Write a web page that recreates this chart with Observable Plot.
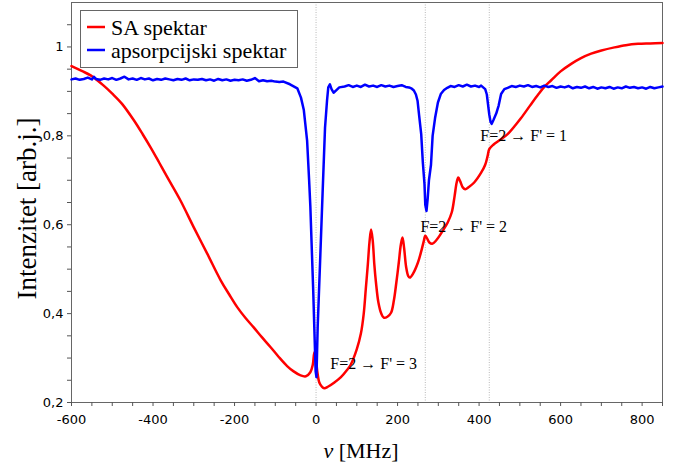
<!DOCTYPE html>
<html><head><meta charset="utf-8">
<script src="https://cdn.jsdelivr.net/npm/d3@7"></script>
<script src="https://cdn.jsdelivr.net/npm/@observablehq/plot@0.6"></script>
<style>
body{margin:0;background:#fff;}
</style>
</head><body>
<div id="wrap"></div>
<script>
// SA spectrum (red)
const saFreq = [-600,-575,-553,-521,-500,-476,-447,-425,-406,-385,-365,-333,-300,-267,-234,-213,-193,-173,-153,-133,-112,-92,-71,-55,-38,-25,-14,-8,-4,-1,3,8,14,20,30,45,61,75,85,100,110,117,122,127,131,135,139,143,147,153,160,166,175,184,191,197,203,208,212,216,221,226,230,238,250,258,264,268,272,278,285,295,310,323,333,340,345,349,354,360,366,375,388,405,415,421,425,435,450,470,490,503,525,545,560,577,600,626,650,675,700,732,760,790,820,850];
const saInt = [0.957,0.946,0.936,0.913,0.895,0.872,0.835,0.803,0.774,0.740,0.707,0.655,0.594,0.535,0.475,0.443,0.414,0.390,0.369,0.347,0.325,0.303,0.282,0.270,0.261,0.259,0.268,0.285,0.313,0.305,0.270,0.245,0.236,0.232,0.236,0.245,0.257,0.272,0.285,0.320,0.355,0.400,0.455,0.510,0.560,0.589,0.565,0.510,0.470,0.425,0.400,0.391,0.393,0.402,0.430,0.470,0.515,0.555,0.571,0.548,0.505,0.485,0.481,0.490,0.515,0.540,0.562,0.575,0.570,0.560,0.557,0.565,0.585,0.605,0.628,0.665,0.695,0.706,0.697,0.684,0.680,0.685,0.695,0.717,0.735,0.755,0.770,0.780,0.790,0.804,0.825,0.840,0.868,0.893,0.910,0.925,0.945,0.962,0.975,0.985,0.992,0.999,1.004,1.007,1.008,1.009];
// absorption spectrum (blue)
const absFreq = [-600,-590,-580,-570,-560,-550,-545,-540,-530,-520,-510,-500,-490,-480,-470,-460,-450,-440,-430,-420,-410,-400,-390,-380,-370,-360,-350,-340,-330,-320,-310,-300,-290,-280,-270,-260,-250,-240,-230,-220,-210,-200,-190,-180,-170,-160,-150,-140,-130,-120,-110,-100,-90,-80,-64,-46,-37,-30,-22,-17,-14,-11,-7,-4,-1,1,4,10,16,22,27,30,34,38,43,50,57,70,80,90,100,110,120,130,140,150,160,170,180,190,200,210,220,228,235,240,245,249,253,258,262,266,268,271,274,277,282,286,292,299,306,314,322,330,340,350,360,370,380,390,400,405,410,415,419,422,425,428,431,435,442,448,454,462,470,480,490,500,510,520,530,540,550,560,570,580,590,600,610,620,630,640,650,660,670,680,690,700,710,720,730,740,750,760,770,780,790,800,810,820,830,840,850];
const absInt = [0.927,0.929,0.926,0.928,0.931,0.927,0.933,0.928,0.926,0.929,0.927,0.930,0.926,0.929,0.933,0.927,0.929,0.926,0.930,0.927,0.929,0.925,0.928,0.926,0.929,0.927,0.925,0.928,0.926,0.929,0.925,0.927,0.926,0.928,0.925,0.927,0.924,0.928,0.925,0.927,0.924,0.926,0.925,0.927,0.924,0.926,0.930,0.923,0.925,0.923,0.924,0.922,0.921,0.922,0.916,0.907,0.886,0.858,0.790,0.700,0.641,0.560,0.453,0.360,0.270,0.257,0.370,0.519,0.670,0.818,0.880,0.909,0.916,0.905,0.897,0.903,0.909,0.911,0.914,0.910,0.913,0.910,0.915,0.911,0.913,0.910,0.914,0.911,0.913,0.910,0.912,0.914,0.910,0.909,0.906,0.902,0.893,0.879,0.845,0.804,0.740,0.692,0.645,0.631,0.660,0.700,0.735,0.800,0.840,0.875,0.894,0.903,0.908,0.912,0.910,0.914,0.911,0.915,0.911,0.913,0.910,0.913,0.909,0.905,0.893,0.870,0.848,0.832,0.827,0.835,0.850,0.868,0.894,0.905,0.908,0.912,0.910,0.913,0.911,0.914,0.910,0.912,0.909,0.913,0.910,0.912,0.908,0.911,0.909,0.912,0.907,0.910,0.908,0.911,0.907,0.910,0.906,0.909,0.907,0.910,0.906,0.909,0.907,0.911,0.908,0.910,0.907,0.909,0.906,0.910,0.907,0.909,0.911,0.908,0.910];
// transition marker lines and labels
const markerFreq = [0, 268, 425];
const annotText = ["F=2 \u2192 F' = 3", "F=2 \u2192 F' = 2", "F=2 \u2192 F' = 1"];
const annotFreq = [35, 256, 403];
const annotInt = [0.288, 0.596, 0.799];
// axes
const xTicks = [-600,-400,-200,0,200,400,600,800];
const xMinor = [-550,-500,-450,-350,-300,-250,-150,-100,-50,50,100,150,250,300,350,450,500,550,650,700,750,850];
const yTicks = [0.2,0.4,0.6,0.8,1];
const yMinor = [0.25,0.3,0.35,0.45,0.5,0.55,0.65,0.7,0.75,0.85,0.9,0.95,1.05];
const xLabel = "\u03BD [MHz]";
const yLabel = "Intenzitet [arb.j.]";
const seriesNames = ["SA spektar", "apsorpcijski spektar"];
const seriesColors = ["#ff0000", "#0000ff"];

const sa = saFreq.map((v, i) => ({v, y: saInt[i]}));
const abs = absFreq.map((v, i) => ({v, y: absInt[i]}));
const annots = annotText.map((t, i) => ({t, v: annotFreq[i], y: annotInt[i]}));

const chart = Plot.plot({
  width: 678, height: 463,
  marginLeft: 71, marginRight: 16, marginTop: 2, marginBottom: 61,
  x: {domain: [-600, 850]},
  y: {domain: [0.2, 1.1]},
  style: {fontFamily: "DejaVu Sans", fontSize: "13px", color: "#000", background: "#fff"},
  marks: [
    Plot.ruleX(markerFreq, {stroke: "#b8b8b8", strokeDasharray: "1,1.5", strokeWidth: 1}),
    Plot.frame({stroke: "#666"}),
    Plot.axisX({ticks: xMinor, tickSize: 4, tickFormat: () => "", stroke: "#555", label: null}),
    Plot.axisX({ticks: xTicks, tickSize: 4, tickPadding: 8, tickFormat: d => String(d), stroke: "#555", label: null}),
    Plot.axisY({ticks: yMinor, tickSize: 4, tickFormat: () => "", stroke: "#555", label: null}),
    Plot.axisY({ticks: yTicks, tickSize: 4, tickPadding: 4, tickFormat: d => String(d).replace(".", ","), stroke: "#555", label: null}),
    Plot.line(sa, {x: "v", y: "y", stroke: seriesColors[0], strokeWidth: 2.5, curve: "catmull-rom"}),
    Plot.line(abs, {x: "v", y: "y", stroke: seriesColors[1], strokeWidth: 2.5}),
    Plot.text(annots, {x: "v", y: "y", text: "t", textAnchor: "start", lineAnchor: "middle", fontFamily: "Liberation Serif", fontSize: 16}),
    Plot.text([yLabel], {frameAnchor: "left", dx: -44, dy: 6, rotate: -90, textAnchor: "middle", lineAnchor: "middle", fontFamily: "Liberation Serif", fontSize: 27}),
    Plot.text([xLabel], {frameAnchor: "bottom", dx: -6, dy: 48, textAnchor: "middle", lineAnchor: "middle", fontFamily: "Liberation Serif", fontSize: 22})
  ]
});

const svg = d3.select(chart);
// italic nu in x label
svg.selectAll("text").each(function() {
  if (this.textContent === xLabel) {
    const t = d3.select(this);
    t.text(null);
    t.append("tspan").attr("font-style", "italic").text("\u03BD");
    t.append("tspan").text(" [MHz]");
  }
});

// legend box inside the plot frame
const lg = svg.append("g").attr("class", "legend").attr("text-anchor", "start");
lg.append("rect").attr("x", 80.5).attr("y", 10.5).attr("width", 217).attr("height", 57)
  .attr("fill", "#fff").attr("stroke", "#666").attr("stroke-width", 1);
seriesNames.forEach((name, i) => {
  const cy = 27 + i * 23;
  lg.append("path").attr("d", `M87,${cy}H105`).attr("fill", "none")
    .attr("stroke", seriesColors[i]).attr("stroke-width", 2.5);
  lg.append("text").attr("x", 111).attr("y", cy + 8).attr("text-anchor", "start")
    .attr("font-family", "Liberation Serif").attr("font-size", 22).attr("fill", "#000").text(name);
});

document.getElementById("wrap").appendChild(chart);
</script>
</body></html>
